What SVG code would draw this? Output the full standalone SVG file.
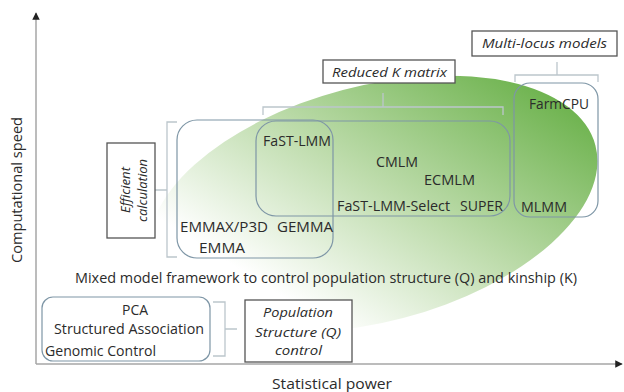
<svg xmlns="http://www.w3.org/2000/svg" width="624" height="392" viewBox="0 0 624 392">
<defs>
<style>
.t{font-family:"Open Sans","Noto Sans","Liberation Sans",sans-serif;font-size:14px;fill:#2b2b2b}
.i{font-family:"Open Sans","Noto Sans","Liberation Sans",sans-serif;font-size:13.5px;font-style:italic;fill:#2b2b2b}
.box{fill:none;stroke:#7e96a6;stroke-width:1.2}
.lab{fill:#ffffff;stroke:#555555;stroke-width:1.3}
.br{fill:none;stroke:#bcc6cc;stroke-width:1.3}
.ax{fill:none;stroke:#a6a6a6;stroke-width:1.5}
</style>
<linearGradient id="g" gradientUnits="userSpaceOnUse" x1="250" y1="258" x2="488" y2="38">
<stop offset="0" stop-color="#ffffff"/>
<stop offset="0.45" stop-color="#bedcac"/>
<stop offset="1" stop-color="#6ab14a"/>
</linearGradient>
<marker id="ah" viewBox="0 0 10 10" refX="9" refY="5" markerWidth="5" markerHeight="5" orient="auto">
<path d="M0,0 L10,5 L0,10 z" fill="#222222"/>
</marker>
</defs>

<ellipse id="area" cx="373" cy="204" rx="230" ry="118" transform="rotate(-14.8 373 204)" fill="url(#g)"/>

<g id="axes">
<line class="ax" x1="36" y1="364" x2="36" y2="13" marker-end="url(#ah)"/>
<line class="ax" x1="36" y1="364" x2="622" y2="364" marker-end="url(#ah)"/>
<text class="t" transform="translate(22,263) rotate(-90)" textLength="146" lengthAdjust="spacingAndGlyphs">Computational speed</text>
<text class="t" x="272" y="389" textLength="120" lengthAdjust="spacingAndGlyphs">Statistical power</text>
</g>

<g id="connectors">
<path class="br" d="M177,122 H167 V257 H177 M155,190 H167"/>
<path class="br" d="M263,115 V107 H503 V115 M383,93 V107"/>
<path class="br" d="M515,82 V75 H598 V82 M557,62 V75"/>
<path class="br" d="M213,302 H225 V356 H213 M225,329 H237"/>
</g>

<g id="emma-box">
<rect class="box" x="177" y="120" width="156" height="138" rx="20"/>
<text class="t" x="180" y="232" textLength="88" lengthAdjust="spacingAndGlyphs">EMMAX/P3D</text>
<text class="t" x="277" y="232" textLength="56" lengthAdjust="spacingAndGlyphs">GEMMA</text>
<text class="t" x="199" y="253" textLength="46" lengthAdjust="spacingAndGlyphs">EMMA</text>
</g>

<g id="reducedk-box">
<rect class="box" x="256" y="121" width="254" height="95" rx="20"/>
<text class="t" x="263" y="146" textLength="68" lengthAdjust="spacingAndGlyphs">FaST-LMM</text>
<text class="t" x="376" y="167" textLength="42" lengthAdjust="spacingAndGlyphs">CMLM</text>
<text class="t" x="424" y="185" textLength="51" lengthAdjust="spacingAndGlyphs">ECMLM</text>
<text class="t" x="337" y="211" textLength="113" lengthAdjust="spacingAndGlyphs">FaST-LMM-Select</text>
<text class="t" x="460" y="211" textLength="43" lengthAdjust="spacingAndGlyphs">SUPER</text>
</g>

<g id="multilocus-box">
<rect class="box" x="514" y="83" width="84" height="134" rx="16"/>
<text class="t" x="529" y="109" textLength="60" lengthAdjust="spacingAndGlyphs">FarmCPU</text>
<text class="t" x="521" y="212" textLength="46" lengthAdjust="spacingAndGlyphs">MLMM</text>
</g>

<g id="popstruct-box">
<rect class="box" x="42" y="297" width="168" height="64" rx="11"/>
<text class="t" x="122" y="315" textLength="26" lengthAdjust="spacingAndGlyphs">PCA</text>
<text class="t" x="54" y="334" textLength="150" lengthAdjust="spacingAndGlyphs">Structured Association</text>
<text class="t" x="45" y="356" textLength="111" lengthAdjust="spacingAndGlyphs">Genomic Control</text>
</g>

<g id="mixed-label">
<text class="t" x="75" y="283" textLength="502" lengthAdjust="spacingAndGlyphs">Mixed model framework to control population structure (Q) and kinship (K)</text>
</g>

<g id="efficient-label">
<rect class="lab" x="107" y="143" width="48" height="95"/>
<text class="i" transform="translate(130,213) rotate(-90)" textLength="46" lengthAdjust="spacingAndGlyphs">Efficient</text>
<text class="i" transform="translate(147,222) rotate(-90)" textLength="63" lengthAdjust="spacingAndGlyphs">calculation</text>
</g>

<g id="reducedk-label">
<rect class="lab" x="323" y="60" width="132" height="23"/>
<text class="i" x="332" y="77" textLength="115" lengthAdjust="spacingAndGlyphs">Reduced K matrix</text>
</g>

<g id="multilocus-label">
<rect class="lab" x="472" y="31" width="145" height="25"/>
<text class="i" x="482" y="48" textLength="125" lengthAdjust="spacingAndGlyphs">Multi-locus models</text>
</g>

<g id="population-label">
<rect class="lab" x="245" y="300" width="107" height="62"/>
<text class="i" x="263" y="317" textLength="70" lengthAdjust="spacingAndGlyphs">Population</text>
<text class="i" x="255" y="337" textLength="86" lengthAdjust="spacingAndGlyphs">Structure (Q)</text>
<text class="i" x="275" y="355" textLength="47" lengthAdjust="spacingAndGlyphs">control</text>
</g>
</svg>
